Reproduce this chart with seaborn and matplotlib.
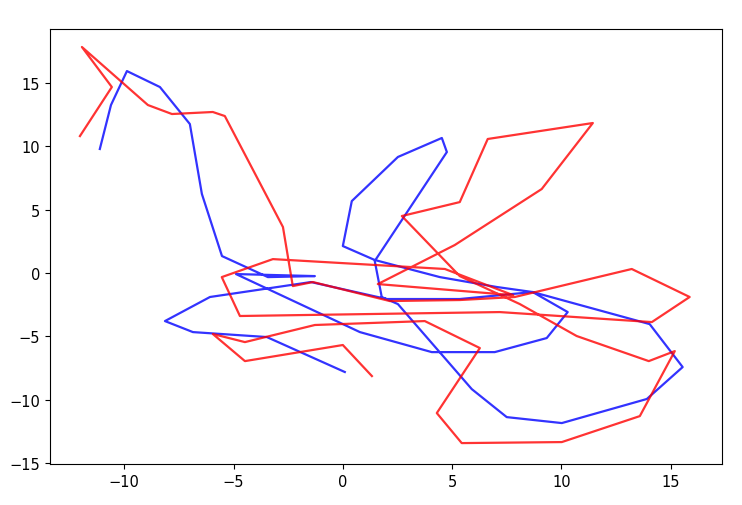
import matplotlib
matplotlib.use("Agg")
import matplotlib.pyplot as plt
import seaborn as sns
import pandas as pd

# Blue path (x, y)
blue_x = [-11.12, -10.61, -9.88, -8.37, -7.00, -6.45, -5.53, -3.43, -1.28, -4.89,
          0.78, 4.07, 6.95, 9.33, 10.29, 8.69, 7.04, 4.44, 1.46, 0.00,
          0.41, 2.52, 4.53, 4.76, 1.46, 1.78, 2.52, 5.90, 7.50, 10.02,
          13.91, 15.55, 14.04, 8.69, 5.35, 2.01, -1.46, -6.08, -8.14, -6.86,
          -3.48, 0.09]
blue_y = [9.79, 13.26, 15.94, 14.68, 11.76, 6.24, 1.34, -0.32, -0.24, -0.08,
          -4.66, -6.24, -6.24, -5.13, -3.08, -1.50, -1.10, -0.32, 1.03, 2.13,
          5.68, 9.16, 10.66, 9.55, 0.95, -1.89, -2.45, -9.16, -11.37, -11.84,
          -9.94, -7.42, -4.03, -1.50, -2.05, -2.05, -0.71, -1.89, -3.79, -4.66,
          -5.05, -7.81]

# Red path (x, y)
red_x = [-12.03, -10.57, -11.94, -8.92, -7.82, -5.95, -5.40, -2.74, -2.29, -1.37,
         2.15, 5.35, 7.87, 13.22, 15.87, 14.14, 7.18, -4.71, -5.54, -3.20,
         4.67, 7.80, 1.60, 5.12, 9.10, 11.44, 6.63, 5.35, 2.70, 5.35,
         8.10, 10.70, 14.00, 15.19, 13.59, 10.02, 5.44, 4.30, 6.27, 3.75,
         -1.28, -4.48, -5.95, -4.48, 0.00, 1.33]
red_y = [10.81, 14.68, 17.84, 13.26, 12.55, 12.71, 12.39, 3.63, -1.03, -0.71,
         -2.21, -2.13, -1.89, 0.32, -1.89, -3.87, -3.08, -3.39, -0.32, 1.10,
         0.32, -1.75, -0.87, 2.21, 6.63, 11.84, 10.58, 5.60, 4.50, -0.24,
         -2.45, -4.97, -6.95, -6.16, -11.29, -13.34, -13.42, -11.05, -5.92, -3.79,
         -4.10, -5.45, -4.81, -6.95, -5.68, -8.13]

blue_df = pd.DataFrame({"x": blue_x, "y": blue_y})
red_df = pd.DataFrame({"x": red_x, "y": red_y})

fig = plt.figure(figsize=(7.42, 5.06), dpi=100)
ax = fig.add_axes([50 / 742, 1 - 465 / 506, 672 / 742, 435 / 506])

sns.lineplot(data=blue_df, x="x", y="y", sort=False, estimator=None,
             color="blue", alpha=0.8, linewidth=1.6, ax=ax)
sns.lineplot(data=red_df, x="x", y="y", sort=False, estimator=None,
             color="red", alpha=0.8, linewidth=1.6, ax=ax)

ax.set_xlim(-13.4, 17.35)
ax.set_ylim(-15.07, 19.26)
ax.set_xticks([-10, -5, 0, 5, 10, 15])
ax.set_yticks([-15, -10, -5, 0, 5, 10, 15])
ax.set_xlabel("")
ax.set_ylabel("")
ax.tick_params(labelsize=10.5)

fig.savefig("out.png", dpi=100)
